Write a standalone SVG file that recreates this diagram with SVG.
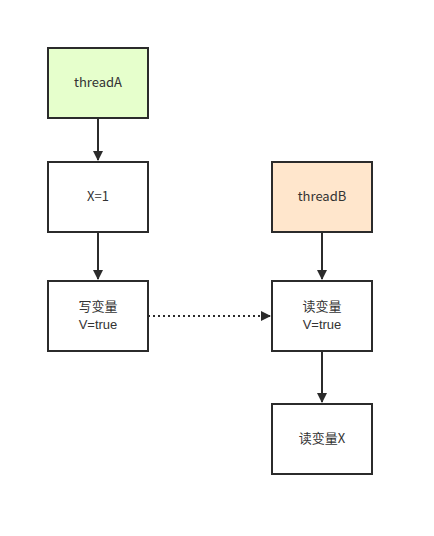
<svg xmlns="http://www.w3.org/2000/svg" width="434" height="536" viewBox="0 0 434 536">
<style>
.box{stroke:#2b2b2b;stroke-width:2}
.t{font-family:"Noto Sans CJK SC","Liberation Sans",sans-serif;font-size:13px;fill:#333;text-anchor:middle}
.l{font-family:"Liberation Sans",sans-serif}
.c{stroke:#2b2b2b;stroke-width:2;fill:none}
</style>
<defs>
<marker id="ah" markerWidth="10" markerHeight="10" refX="9" refY="5" orient="auto" markerUnits="userSpaceOnUse" viewBox="0 0 10 10">
<path d="M0,0 L10,5 L0,10 Z" fill="#2b2b2b"/>
</marker>
</defs>
<rect width="434" height="536" fill="#fff"/>
<g id="connectors">
<line class="c" x1="98" y1="118" x2="98" y2="160" marker-end="url(#ah)"/>
<line class="c" x1="98" y1="232" x2="98" y2="279" marker-end="url(#ah)"/>
<line class="c" x1="322" y1="232" x2="322" y2="279" marker-end="url(#ah)"/>
<line class="c" x1="322" y1="351" x2="322" y2="402" marker-end="url(#ah)"/>
<line class="c" x1="148" y1="316" x2="270" y2="316" stroke-dasharray="2,3" marker-end="url(#ah)"/>
</g>
<g id="threadA">
<rect class="box" x="48" y="48" width="100" height="70" fill="#e6ffcc"/>
<text class="t" x="98" y="87">threadA</text>
</g>
<g id="x1">
<rect class="box" x="48" y="162" width="100" height="70" fill="#fff"/>
<text class="t" x="98" y="201">X=1</text>
</g>
<g id="writeV">
<rect class="box" x="48" y="281" width="100" height="70" fill="#fff"/>
<text class="t" x="98" y="311">写变量</text>
<text class="t l" x="98" y="329">V=true</text>
</g>
<g id="threadB">
<rect class="box" x="272" y="162" width="100" height="70" fill="#ffe6cc"/>
<text class="t" x="322" y="201">threadB</text>
</g>
<g id="readV">
<rect class="box" x="272" y="281" width="100" height="70" fill="#fff"/>
<text class="t" x="322" y="311">读变量</text>
<text class="t l" x="322" y="329">V=true</text>
</g>
<g id="readX">
<rect class="box" x="272" y="404" width="100" height="70" fill="#fff"/>
<text class="t" x="322" y="443">读变量X</text>
</g>
</svg>
